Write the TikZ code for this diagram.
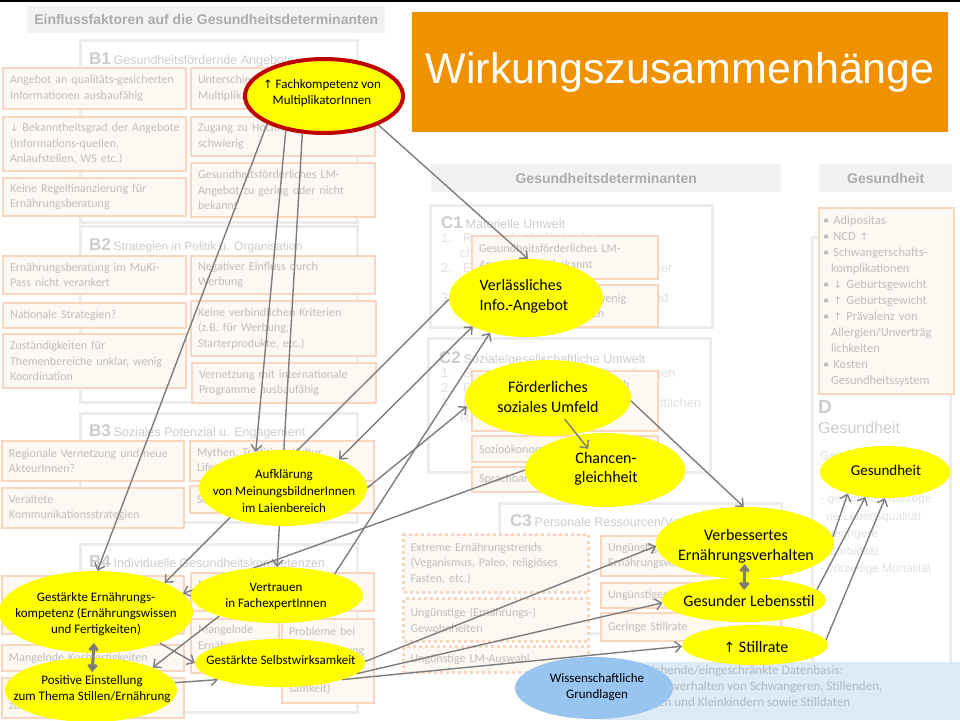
\documentclass[tikz,border=0pt]{standalone}
\usepackage{fontspec}
\setmainfont{Carlito}
\newfontfamily\hf{Liberation Sans}
\newfontfamily\dv{DejaVu Sans}
\usetikzlibrary{shapes.geometric,arrows.meta}
\pgfdeclarelayer{back}
\pgfdeclarelayer{mid}
\pgfdeclarelayer{front}
\pgfsetlayers{back,mid,main,front}
\definecolor{titc}{RGB}{240,146,0}
\definecolor{fbord}{RGB}{250,214,192}
\definecolor{ffill}{RGB}{254,248,242}
\definecolor{ftext}{RGB}{190,190,190}
\definecolor{frmc}{RGB}{236,236,236}
\definecolor{hdrfill}{RGB}{242,242,242}
\definecolor{hdrtext}{RGB}{172,172,172}
\definecolor{lblc}{RGB}{205,205,205}
\definecolor{lstc}{RGB}{226,226,226}
\definecolor{arrc}{RGB}{125,125,125}
\definecolor{yfill}{RGB}{255,255,0}
\definecolor{dred}{RGB}{192,0,0}
\definecolor{bluebox}{RGB}{221,235,247}
\definecolor{blueell}{RGB}{152,196,240}
\definecolor{bluetext}{RGB}{178,184,190}
\newcommand\obox[7][]{\node[fb,#1,minimum width=#5,minimum height=#6,text width=\the\numexpr#5-14\relax pt] (#2) at (#3,#4) {#7};}
\begin{document}
\begin{tikzpicture}[x=1pt,y=-1pt,
  fb/.style={draw=fbord, line width=2pt, fill=ffill, text=ftext, font=\fontsize{12}{15.5}\selectfont, align=left, anchor=north west, inner xsep=7pt, inner ysep=1pt},
  dotbox/.style={dash pattern=on 3pt off 3pt, line width=3pt},
  bframe/.style={draw=frmc, line width=3pt},
  hdr/.style={fill=hdrfill, text=hdrtext, font=\hf\bfseries\fontsize{14}{14}\selectfont, anchor=north west, inner sep=0pt},
  lab/.style={anchor=base west, inner sep=0pt, text=lblc, font=\hf},
  lstx/.style={anchor=north west, inner sep=0pt, text=lstc, align=left, font=\hf\fontsize{13}{15}\selectfont},
  yel/.style={ellipse, fill=yfill, inner sep=0pt},
  et/.style={align=center, inner sep=0pt, text=black, font=\fontsize{13}{16}\selectfont},
  etb/.style={align=center, inner sep=0pt, text=black, font=\fontsize{16}{19.5}\selectfont},
  conn/.style={draw=arrc, line width=1.4pt, -{Straight Barb[length=6pt,width=11pt]}},
  conn2/.style={draw=arrc, line width=1.4pt, {Straight Barb[length=6pt,width=11pt]}-{Straight Barb[length=6pt,width=11pt]}},
  dbl/.style={draw=arrc, line width=3pt, {Straight Barb[length=5pt,width=8pt]}-{Straight Barb[length=5pt,width=8pt]}}
]
\useasboundingbox (0,0) rectangle (960,720);
\begin{pgfonlayer}{back}
\fill[white] (0,0) rectangle (960,720);
\fill[black] (0,0) rectangle (960,1.5);
% headers
\node[hdr, minimum width=358, minimum height=27] (hA) at (27,6) {Einflussfaktoren auf die Gesundheitsdeterminanten};
\node[hdr, minimum width=350, minimum height=28] (hB) at (431,164) {Gesundheitsdeterminanten};
\node[hdr, minimum width=133, minimum height=28] (hC) at (819,164) {Gesundheit};
\node[fill=titc, minimum width=536, minimum height=120, anchor=north west, inner sep=0pt, text=white, font=\hf\fontsize{43}{48}\selectfont] (title) at (412,12) {Wirkungszusammenhänge};
% frames
\draw[bframe] (80,40) rectangle (357,222);
\draw[bframe] (80,226) rectangle (357,402);
\draw[bframe] (80,413) rectangle (357,522);
\draw[bframe] (80,544) rectangle (357,712);
\draw[bframe] (430,205) rectangle (712,327);
\draw[bframe] (428,338) rectangle (710,472);
\draw[bframe] (499,503) rectangle (781,633);
\draw[bframe] (812,237) rectangle (950,716);
% labels
\node[lab] (lb1) at (89,64) {{\fontsize{17}{17}\selectfont\bfseries B1} {\fontsize{12.5}{13}\selectfont Gesundheitsfördernde Angebote}};
\node[lab] (lb2) at (89,250) {{\fontsize{17}{17}\selectfont\bfseries B2} {\fontsize{12}{13}\selectfont Strategien in Politik u. Organisation}};
\node[lab] (lb3) at (89,436) {{\fontsize{17}{17}\selectfont\bfseries B3} {\fontsize{12.5}{13}\selectfont Soziales Potenzial u. Engagement}};
\node[lab] (lb4) at (89,567) {{\fontsize{17}{17}\selectfont\bfseries B4} {\fontsize{12.5}{13}\selectfont Individuelle Gesundheitskompetenzen}};
\node[lab] (lc1) at (441,228) {{\fontsize{17}{17}\selectfont\bfseries C1} {\fontsize{12.5}{13}\selectfont Materielle Umwelt}};
\node[lab] (lc2) at (439,363) {{\fontsize{17}{17}\selectfont\bfseries C2} {\fontsize{12.5}{13}\selectfont Soziale/gesellschaftliche Umwelt}};
\node[lab] (lc3) at (510,526) {{\fontsize{17}{17}\selectfont\bfseries C3} {\fontsize{12.5}{13}\selectfont Personale Ressourcen/Verhaltensweisen}};
\node[lab] (ld1) at (818,413) {\fontsize{19}{19}\selectfont\bfseries D};
\node[lab] (ld2) at (818,433) {\fontsize{16}{16}\selectfont Gesundheit};
% lists
\node[lstx] (c1list) at (441,233) {1.\hspace{11pt}Regionale Verfügbarkeit von\\\hspace*{19pt}chancengleichem Zugang\\2.\hspace{11pt}Erreichbarkeit von Angeboten sicher\\[15pt]3.\hspace{11pt}Transparenz von Informationen und};
\node[lstx] (c2list) at (441,368) {1.\hspace{11pt}Soziale Netzwerke und Beziehungen\\2.\hspace{11pt}Familiäre Unterstützung\\3.\hspace{11pt}Normen und Werte der gesellschaftlichen\\\hspace*{19pt}Rahmenbedingungen};
\node[lstx, font=\hf\fontsize{12}{17.5}\selectfont] (dlistA) at (820,451) {Gesundheitsziele:};
\node[lstx, font=\hf\fontsize{12}{17.5}\selectfont] (dlistB) at (820,494) {- gesundheitsbezoge\\\hspace*{6pt}ne Lebensqualität\\- geringere\\\hspace*{6pt}Morbidität\\- vorzeitige Mortalität};
% B1 boxes
\obox{b1a}{2}{67}{183}{41}{Angebot an qualitäts-gesicherten\\Informationen ausbaufähig}
\obox{b1b}{2}{116}{183}{54}{\mbox{{\dv\fontsize{10}{15}\selectfont ↓} Bekanntheitsgrad der Angebote}\\(Informations-quellen,\\Anlaufstellen, WS etc.)}
\obox{b1c}{2}{177}{183}{38}{Keine Regelfinanzierung für\\Ernährungsberatung}
\obox{b1d}{190}{67}{183}{41}{Unterschiedliche Kompetenz von\\MultiplikatorInnen}
\obox{b1e}{190}{116}{184}{39}{Zugang zu Hochrisikogruppen\\schwierig}
\obox{b1f}{190}{162}{184}{54}{Gesundheitsförderliches LM-\\Angebot zu gering oder nicht\\bekannt}
% B2 boxes
\obox{b2a}{2}{255}{183}{38}{Ernährungsberatung im MuKi-\\Pass nicht verankert}
\obox{b2b}{2}{302}{183}{25}{Nationale Strategien?}
\obox{b2c}{2}{333}{183}{54}{Zuständigkeiten für\\Themenbereiche unklar, wenig\\Koordination}
\obox{b2d}{190}{255}{184}{38}{Negativer Einfluss durch\\Werbung}
\obox{b2e}{190}{300}{185}{55}{Keine verbindlichen Kriterien\\(z.B. für Werbung,\\Starterprodukte, etc.)}
\obox{b2f}{191}{362}{184}{40}{Vernetzung mit internationale\\Programme ausbaufähig}
% B3 boxes
\obox{b3a}{1}{440}{182}{40}{Regionale Vernetzung und neue\\AkteurInnen?}
\obox{b3b}{1}{487}{182}{40}{Veraltete\\Kommunikationsstrategien}
\obox{b3c}{189}{440}{184}{40}{Mythen, Tradition, Kultur,\\Lifestyle}
\obox{b3d}{189}{485}{184}{27}{Soziale Medien}
% B4 boxes
\obox{b4a}{1}{575}{182}{58}{Mangelndes\\Ernährungswissen}
\obox{b4b}{1}{644}{182}{26}{Mangelnde Kochfertigkeiten}
\obox{b4c}{1}{677}{182}{40}{Negative Einstellung\\zum Stillen}
\obox{b4d}{190}{572}{183}{38}{Mangelndes Vertrauen\\in Fachinformationen}
\obox{b4e}{190}{618}{88}{54}{Mangelnde\\Ernährungs-\\bildung}
\obox[font=\fontsize{12}{19}\selectfont]{b4f}{281}{618}{92}{84}{Probleme bei\\der Umsetzung\\(Selbstwirk-\\samkeit)}
% C boxes
\obox{c1a}{471}{235}{186}{43}{Gesundheitsförderliches LM-\\Angebot nicht bekannt}
\obox{c1b}{471}{284}{186}{42}{Regionale Angebote zu wenig\\bekannt bei Institutionen}
\obox{c2a}{471}{370}{186}{60}{Fehlende Unterstützung durch\\Partner, Familie und Umfeld\\(Stillen)}
\obox{c2b}{471}{435}{186}{26}{Sozioökonomischer Status}
\obox{c2c}{471}{466}{186}{25}{Sprachbarrieren}
\obox{c3a}{600}{535}{180}{40}{Ungünstiges\\Ernährungsverhalten}
\obox{c3b}{600}{582}{180}{25}{Ungünstiger Lebensstil}
\obox{c3c}{600}{612}{180}{28}{Geringe Stillrate}
\obox[dotbox]{d1}{402}{533}{185}{58}{Extreme Ernährungstrends\\(Veganismus, Paleo, religiöses\\Fasten, etc.)}
\obox[dotbox]{d2}{402}{597}{185}{43}{Ungünstige (Ernährungs-)\\Gewohnheiten}
\obox[dotbox]{d3}{402}{645}{185}{26}{Ungünstige LM-Auswahl}
% Gesundheit box
\node[fb, minimum width=135, minimum height=186, text width=127, inner xsep=4pt, font=\fontsize{12.5}{16}\selectfont] (gbox) at (818,207) {\textbullet\ Adipositas\\\textbullet\ NCD {\dv\fontsize{10.5}{16}\selectfont ↑}\\\textbullet\ Schwangerschafts-\\\hspace*{8pt}komplikationen\\\textbullet\ {\dv\fontsize{10.5}{16}\selectfont ↓} Geburtsgewicht\\\textbullet\ {\dv\fontsize{10.5}{16}\selectfont ↑} Geburtsgewicht\\\textbullet\ {\dv\fontsize{10.5}{16}\selectfont ↑} Prävalenz von\\\hspace*{8pt}Allergien/Unverträg\\\hspace*{8pt}lichkeiten\\\textbullet\ Kosten\\\hspace*{8pt}Gesundheitssystem};
% blue box
\fill[bluebox] (598,662) rectangle (960,720);
\node[anchor=north west, inner sep=0pt, text=bluetext, align=left, font=\fontsize{13}{16.3}\selectfont] (bluet) at (614,665) {Unzureichende/eingeschränkte Datenbasis:\\Ernährungsverhalten von Schwangeren, Stillenden,\\Säuglingen und Kleinkindern sowie Stilldaten};
\end{pgfonlayer}

% ellipses
\node[yel, minimum width=158, minimum height=74, draw=dred, line width=4pt] (fach) at (324,96) {};
\node[yel, minimum width=154, minimum height=78] (verl) at (526,298) {};
\node[yel, minimum width=166, minimum height=76] (ford) at (548,398) {};
\node[yel, minimum width=160, minimum height=74] (chan) at (605,470) {};
\node[yel, minimum width=168, minimum height=76] (auf) at (283,488) {};
\node[yel, minimum width=194, minimum height=82] (gek) at (96,612) {};
\node[yel, minimum width=172, minimum height=56] (vtr) at (277,595) {};
\node[yel, minimum width=172, minimum height=64] (pos) at (91,690) {};
\node[yel, minimum width=170, minimum height=48] (selb) at (280,663) {};
\node[yel, minimum width=178, minimum height=72] (verb) at (745,543) {};
\node[yel, minimum width=164, minimum height=44] (gesl) at (744,600) {};
\node[yel, minimum width=146, minimum height=40] (still) at (755,645) {};
\node[yel, minimum width=130, minimum height=52] (ges) at (885,472) {};
\node[ellipse, fill=blueell, inner sep=0pt, minimum width=158, minimum height=62] (wiss) at (594,688) {};

\node[et] (fach-t) at (322,93) {{\dv\fontsize{11.5}{16}\selectfont ↑} Fachkompetenz von\\MultiplikatorInnen};
\node[etb, align=left, font=\fontsize{16}{20}\selectfont] (verl-t) at (524,296) {Verlässliches\\Info.-Angebot};
\node[etb] (ford-t) at (548,397) {Förderliches\\soziales Umfeld};
\node[etb] (chan-t) at (606,469) {Chancen-\\gleichheit};
\node[et, font=\fontsize{13}{17}\selectfont] (auf-t) at (284,491) {Aufklärung\\von MeinungsbildnerInnen\\im Laienbereich};
\node[et] (gek-t) at (96,614) {Gestärkte Ernährungs-\\kompetenz (Ernährungswissen\\und Fertigkeiten)};
\node[et] (vtr-t) at (276,596) {Vertrauen\\in FachexpertInnen};
\node[et] (pos-t) at (92,689) {Positive Einstellung\\zum Thema Stillen/Ernährung};
\node[et] (selb-t) at (281,660) {Gestärkte Selbstwirksamkeit};
\node[etb, font=\fontsize{16}{20}\selectfont] (verb-t) at (746,546) {Verbessertes\\Ernährungsverhalten};
\node[etb] (gesl-t) at (749,601) {Gesunder Lebensstil};
\node[etb] (still-t) at (756,647) {{\dv\fontsize{14}{16}\selectfont ↑} Stillrate};
\node[et, font=\fontsize{15}{16}\selectfont] (ges-t) at (886,470) {Gesundheit};
\node[et] (wiss-t) at (597,687) {Wissenschaftliche\\Grundlagen};

\begin{pgfonlayer}{mid}
\draw[conn] (fach.206) -- (gek.88);
\draw[conn] (fach.222) -- (auf.127);
\draw[conn] (fach.240) -- (vtr.north);
\draw[conn] (fach.332) -- (verl.87);
\draw[conn] (verl.181) -- (gek.23);
\draw[conn2] (auf.27) -- (verl.208);
\draw[conn] (vtr.20) -- (verl.224);
\draw[conn] (auf.east) -- (ford.186);
\draw[conn] (chan.west) -- (gek.12);
\draw[conn] (ford.358) -- (verb.92);
\draw[conn] (selb.1) -- (verb.182);
\draw[conn] (selb.352) -- (gesl.182);
\draw[conn] (selb.345) -- (still.181);
\draw[conn] (pos.5) -- (selb.195);
\draw[conn] (gek.334) -- (selb.west);
\draw[conn] (vtr.200) -- (pos.20);
\draw[conn] (verb.4) -- (ges.210);
\draw[conn] (gesl.8) -- (ges.232);
\draw[conn] (still.4) -- (ges.south);
\end{pgfonlayer}

\begin{pgfonlayer}{front}
\draw[conn, shorten <=27pt, shorten >=27pt] (ford.center) -- (chan.center);
\draw[dbl, shorten <=31pt, shorten >=18pt] (gek.center) -- (pos.center);
\draw[dbl, shorten <=21pt, shorten >=10pt] (verb.center) -- (gesl.center);
\end{pgfonlayer}
\end{tikzpicture}
\end{document}
